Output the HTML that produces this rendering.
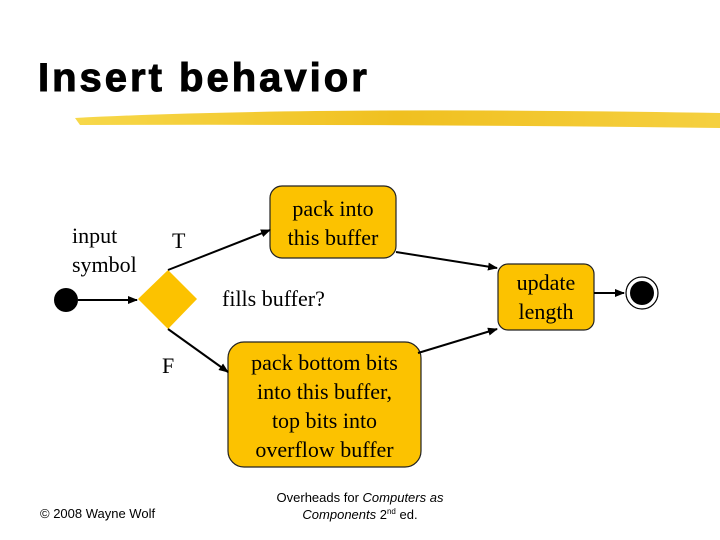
<!DOCTYPE html>
<html><head><style>
body{margin:0;width:720px;height:540px;background:#fff;overflow:hidden;position:relative;font-family:"Liberation Serif",serif}
.t{position:absolute;font-size:22px;color:#000;line-height:29px;text-align:center;white-space:nowrap}
</style></head><body>
<div style="position:absolute;left:38px;top:56px;font:bold 40px 'Liberation Sans',sans-serif;letter-spacing:3px;-webkit-text-stroke:1px #000;color:#000">Insert behavior</div>
<svg width="720" height="540" style="position:absolute;left:0;top:0">
<defs>
<linearGradient id="g" x1="0" x2="1"><stop offset="0" stop-color="#f7d84a"/><stop offset="0.5" stop-color="#f0c020"/><stop offset="1" stop-color="#f5d040"/></linearGradient>
<marker id="a" markerWidth="10" markerHeight="8" refX="9" refY="4" orient="auto" markerUnits="userSpaceOnUse"><path d="M0,0L10,4L0,8z" fill="#000"/></marker>
</defs>
<path d="M75,118 Q300,106 720,113 L720,128 Q400,124 80,125 Z" fill="url(#g)"/>
<rect x="270" y="186" width="126" height="72" rx="12" fill="#fcc200" stroke="#222" stroke-width="1.2"/>
<rect x="228" y="342" width="193" height="125" rx="16" fill="#fcc200" stroke="#222" stroke-width="1.2"/>
<rect x="498" y="264" width="96" height="66" rx="10" fill="#fcc200" stroke="#222" stroke-width="1.2"/>
<polygon points="168,270 197,299 168,329 138,299" fill="#fcc200"/>
<circle cx="66" cy="300" r="12" fill="#000"/>
<line x1="78" y1="300" x2="137" y2="300" stroke="#000" stroke-width="2" marker-end="url(#a)"/>
<line x1="168" y1="270" x2="270" y2="230" stroke="#000" stroke-width="2" marker-end="url(#a)"/>
<line x1="168" y1="329" x2="228" y2="372" stroke="#000" stroke-width="2" marker-end="url(#a)"/>
<line x1="396" y1="252" x2="497" y2="268" stroke="#000" stroke-width="2" marker-end="url(#a)"/>
<line x1="418" y1="353" x2="497" y2="329" stroke="#000" stroke-width="2" marker-end="url(#a)"/>
<line x1="594" y1="293" x2="624" y2="293" stroke="#000" stroke-width="2" marker-end="url(#a)"/>
<circle cx="642" cy="293" r="16" fill="#fff" stroke="#000" stroke-width="1.2"/>
<circle cx="642" cy="293" r="12" fill="#000"/>
</svg>
<div class="t" style="left:270px;width:126px;top:194px">pack into<br>this buffer</div>
<div class="t" style="left:228px;width:193px;top:348px">pack bottom bits<br>into this buffer,<br>top bits into<br>overflow buffer</div>
<div class="t" style="left:498px;width:96px;top:268px">update<br>length</div>
<div class="t" style="left:72px;top:221px;text-align:left">input<br>symbol</div>
<div class="t" style="left:172px;top:226px">T</div>
<div class="t" style="left:162px;top:351px">F</div>
<div class="t" style="left:222px;top:284px">fills buffer?</div>
<div style="position:absolute;left:40px;top:506px;font:13px 'Liberation Sans',sans-serif">© 2008 Wayne Wolf</div>
<div style="position:absolute;left:250px;width:220px;top:489px;font:13px 'Liberation Sans',sans-serif;text-align:center;line-height:17px">Overheads for <i>Computers as</i><br><i>Components</i> 2<span style="font-size:8px;position:relative;top:-5px">nd</span> ed.</div>
</body></html>
